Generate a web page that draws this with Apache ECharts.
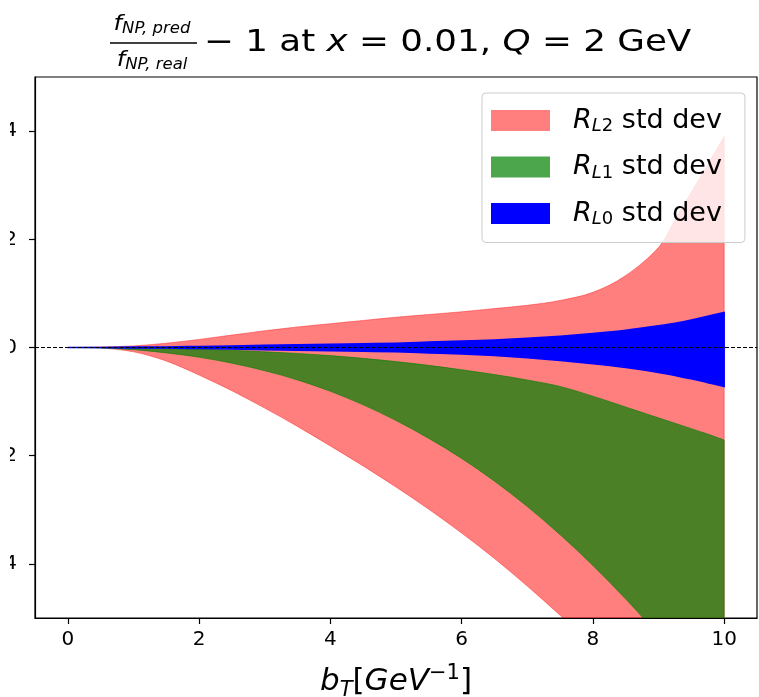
<!DOCTYPE html>
<html>
<head>
<meta charset="utf-8">
<script src="https://cdn.jsdelivr.net/npm/echarts@6/dist/echarts.min.js"></script>
<style>
  html, body { margin: 0; padding: 0; background: #fff; }
  #chart { width: 759px; height: 697px; }
</style>
</head>
<body>
<div id="chart"></div>
<script>
// b_T grid and band edges
const bT = [0, 0.5, 1, 1.5, 2, 2.5, 3, 3.5, 4, 4.5, 5, 5.5, 6, 6.5, 7, 7.5, 8, 8.5, 9, 9.25, 9.5, 9.75, 10];

const rl2Hi = [0, 0.001, 0.003, 0.008, 0.015, 0.023, 0.031, 0.038, 0.044, 0.050, 0.056, 0.061, 0.066, 0.072, 0.078, 0.087, 0.102, 0.133, 0.185, 0.236, 0.287, 0.338, 0.390];
const rl2Lo = [0, -0.001, -0.008, -0.025, -0.051, -0.080, -0.112, -0.146, -0.182, -0.219, -0.258, -0.299, -0.343, -0.390, -0.441, -0.495, -0.552, -0.612, -0.675, -0.707, -0.740, -0.773, -0.807];

const rl1Hi = [0, 0, -0.001, -0.002, -0.003, -0.005, -0.008, -0.011, -0.015, -0.020, -0.026, -0.033, -0.041, -0.050, -0.060, -0.072, -0.090, -0.110, -0.130, -0.140, -0.150, -0.160, -0.171];
const rl1Lo = [0, -0.001, -0.004, -0.010, -0.018, -0.029, -0.043, -0.060, -0.081, -0.106, -0.135, -0.168, -0.205, -0.247, -0.294, -0.346, -0.403, -0.465, -0.532, -0.567, -0.603, -0.640, -0.678];

const rl0Hi = [0, 0, 0.001, 0.001, 0.002, 0.003, 0.004, 0.005, 0.006, 0.007, 0.008, 0.010, 0.012, 0.014, 0.017, 0.021, 0.026, 0.032, 0.040, 0.045, 0.051, 0.058, 0.065];
const rl0Lo = [0, 0, -0.001, -0.001, -0.002, -0.003, -0.004, -0.005, -0.006, -0.007, -0.008, -0.010, -0.012, -0.015, -0.019, -0.024, -0.030, -0.037, -0.046, -0.052, -0.058, -0.065, -0.072];

const xTicks = [0, 2, 4, 6, 8, 10];
const yTicks = [-0.4, -0.2, 0, 0.2, 0.4];

const FONT = 'DejaVu Sans';

const chart = echarts.init(document.getElementById('chart'));

// catmull-rom through screen points -> bezier segments
function curveTo(pts) {
  let d = '';
  for (let i = 0; i < pts.length - 1; i++) {
    const p0 = pts[i - 1] || pts[i];
    const p1 = pts[i];
    const p2 = pts[i + 1];
    const p3 = pts[i + 2] || pts[i + 1];
    const c1x = p1[0] + (p2[0] - p0[0]) / 6, c1y = p1[1] + (p2[1] - p0[1]) / 6;
    const c2x = p2[0] - (p3[0] - p1[0]) / 6, c2y = p2[1] - (p3[1] - p1[1]) / 6;
    d += ' C' + c1x + ' ' + c1y + ' ' + c2x + ' ' + c2y + ' ' + p2[0] + ' ' + p2[1];
  }
  return d;
}

// fill_between: upper edge forward, lower edge back, one closed path
function band(name, lo, hi, color, edgeWidth) {
  return {
    name: name,
    type: 'custom',
    clip: true,
    silent: true,
    itemStyle: { color: color },
    data: bT.map((x, i) => [x, lo[i], hi[i]]),
    encode: { x: 0, y: [1, 2] },
    renderItem: function (params, api) {
      if (params.dataIndex !== 0) return null;
      const top = bT.map((x, i) => api.coord([x, hi[i]]));
      const bot = bT.map((x, i) => api.coord([x, lo[i]])).reverse();
      const d = 'M' + top[0][0] + ' ' + top[0][1] + curveTo(top) +
        ' L' + bot[0][0] + ' ' + bot[0][1] + curveTo(bot) + ' Z';
      return {
        type: 'path',
        shape: { pathData: d },
        style: { fill: color, stroke: color, lineWidth: edgeWidth }
      };
    }
  };
}

const legendLabels = {
  RL2: '{i|R}{si|L}{sn|2}{n| std dev}',
  RL1: '{i|R}{si|L}{sn|1}{n| std dev}',
  RL0: '{i|R}{si|L}{sn|0}{n| std dev}'
};

const mainRich = {
  n: { fontFamily: FONT, fontSize: 30, color: '#000', lineHeight: 34 },
  i: { fontFamily: FONT, fontSize: 30, fontStyle: 'italic', color: '#000', lineHeight: 34 }
};
const fracRich = {
  f: { fontFamily: FONT, fontSize: 22, fontStyle: 'italic', color: '#000', lineHeight: 26, verticalAlign: 'middle' },
  s: { fontFamily: FONT, fontSize: 15, fontStyle: 'italic', color: '#000', lineHeight: 26, verticalAlign: 'bottom' }
};

const option = {
  animation: false,
  backgroundColor: '#fff',
  grid: {
    left: 35, right: 2, top: 77, bottom: 79,
    outerBoundsMode: 'none',
    containLabel: false,
    show: true, borderColor: '#000', borderWidth: 1.2, backgroundColor: 'transparent'
  },
  legend: {
    orient: 'vertical',
    left: 482,
    top: 93,
    padding: [14, 23, 14, 9],
    itemGap: 18,
    itemWidth: 59,
    itemHeight: 21,
    icon: 'rect',
    backgroundColor: 'rgba(255,255,255,0.8)',
    borderColor: '#cccccc',
    borderWidth: 1,
    borderRadius: 4,
    data: ['RL2', 'RL1', 'RL0'],
    formatter: name => legendLabels[name],
    textStyle: {
      padding: [0, 0, 0, 18],
      rich: {
        i: { fontFamily: FONT, fontSize: 27, fontStyle: 'italic', color: '#000', lineHeight: 30, verticalAlign: 'middle' },
        n: { fontFamily: FONT, fontSize: 27, color: '#000', lineHeight: 30, verticalAlign: 'middle' },
        si: { fontFamily: FONT, fontSize: 18, fontStyle: 'italic', color: '#000', lineHeight: 30, verticalAlign: 'bottom' },
        sn: { fontFamily: FONT, fontSize: 18, color: '#000', lineHeight: 30, verticalAlign: 'bottom' }
      }
    }
  },
  xAxis: {
    type: 'value',
    min: -0.5,
    max: 10.5,
    name: '{i|b}{s|T}{n|[}{i|GeV}{sup|−1}{n|]}',
    nameLocation: 'middle',
    nameGap: 45,
    nameTextStyle: {
      rich: {
        i: { fontFamily: FONT, fontSize: 31, fontStyle: 'italic', color: '#000', lineHeight: 38, verticalAlign: 'middle' },
        n: { fontFamily: FONT, fontSize: 31, color: '#000', lineHeight: 38, verticalAlign: 'middle' },
        s: { fontFamily: FONT, fontSize: 21, fontStyle: 'italic', color: '#000', lineHeight: 38, verticalAlign: 'bottom' },
        sup: { fontFamily: FONT, fontSize: 21, color: '#000', lineHeight: 38, verticalAlign: 'top' }
      }
    },
    axisLine: { onZero: false, lineStyle: { color: '#000', width: 1.2 } },
    axisTick: { show: true, length: 6, customValues: xTicks, lineStyle: { color: '#000', width: 1.2 } },
    axisLabel: { customValues: xTicks, margin: 12, fontFamily: FONT, fontSize: 20, color: '#000' },
    splitLine: { show: false }
  },
  yAxis: {
    type: 'value',
    min: -0.5,
    max: 0.5,
    axisLine: { onZero: false, lineStyle: { color: '#000', width: 1.2 } },
    axisTick: { show: true, length: 6, customValues: yTicks, lineStyle: { color: '#000', width: 1.2 } },
    axisLabel: {
      customValues: yTicks,
      margin: 18,
      fontFamily: FONT,
      fontSize: 20,
      color: '#000',
      formatter: v => (v < 0 ? '−' : '') + Math.abs(v).toFixed(1)
    },
    splitLine: { show: false }
  },
  graphic: [
    // left edge of the picture is cropped, only the last digit of y labels shows
    { type: 'rect', z: 100, shape: { x: 0, y: 70, width: 10, height: 560 }, style: { fill: '#fff' } },
    // title: fraction + rest
    { type: 'text', z: 50, x: 152, y: 11, scaleX: 1.1, style: { text: '{f|f}{s|NP, pred}', rich: fracRich, align: 'center', verticalAlign: 'top' } },
    { type: 'line', z: 50, shape: { x1: 110, y1: 43, x2: 197, y2: 43 }, style: { stroke: '#000', lineWidth: 1.4 } },
    { type: 'text', z: 50, x: 152, y: 47, scaleX: 1.1, style: { text: '{f|f}{s|NP, real}', rich: fracRich, align: 'center', verticalAlign: 'top' } },
    { type: 'text', z: 50, x: 204, y: 26, scaleX: 1.19, style: { text: '{n|− 1 at }{i|x}{n| = 0.01, }{i|Q}{n| = 2 GeV}', rich: mainRich, align: 'left', verticalAlign: 'top' } }
  ],
  series: [
    band('RL2', rl2Lo, rl2Hi, 'rgba(255,0,0,0.5)', 0.8),
    band('RL1', rl1Lo, rl1Hi, 'rgba(0,128,0,0.7)', 0.8),
    band('RL0', rl0Lo, rl0Hi, 'rgb(0,0,255)', 1.5),
    {
      name: 'zero',
      type: 'line',
      data: [],
      z: 10,
      markLine: {
        silent: true,
        symbol: 'none',
        label: { show: false },
        lineStyle: { color: '#000', type: [4, 2], width: 1 },
        data: [{ yAxis: 0 }]
      }
    }
  ]
};

chart.setOption(option);
</script>
</body>
</html>
